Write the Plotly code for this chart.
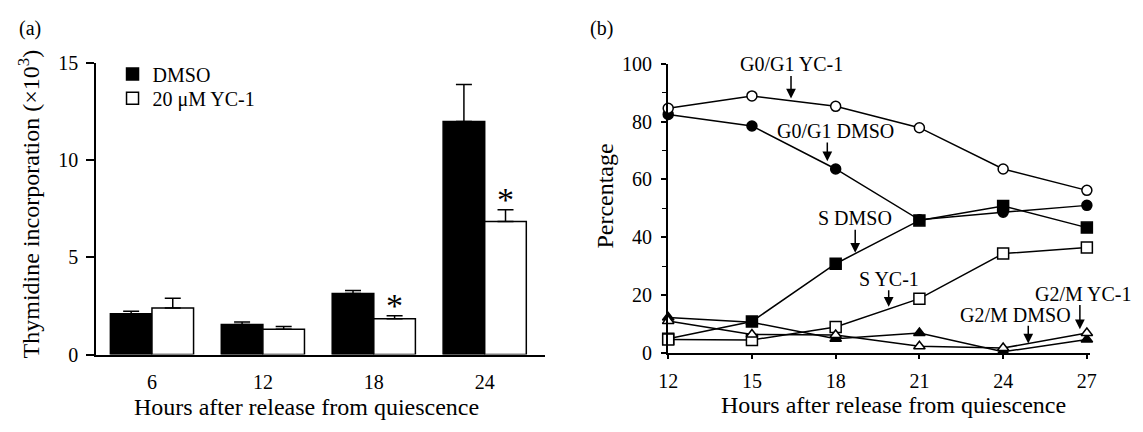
import plotly.graph_objects as go

# ---------------- data: panel (a) ----------------
hours_a = ["6", "12", "18", "24"]
dmso_a = [2.1, 1.55, 3.15, 12.0]
dmso_err = [0.13, 0.13, 0.15, 1.9]
yc1_a = [2.4, 1.3, 1.85, 6.85]
yc1_err = [0.5, 0.15, 0.15, 0.6]
signif = [False, False, True, True]
yticks_a = [0, 5, 10, 15]

# ---------------- data: panel (b) ----------------
hours_b = [12, 15, 18, 21, 24, 27]
g01_dmso = [82.5, 78.5, 63.6, 46.0, 48.6, 51.0]
g01_yc1 = [84.6, 88.9, 85.3, 77.9, 63.6, 56.2]
s_dmso = [4.8, 10.8, 30.8, 45.8, 50.8, 43.3]
s_yc1 = [4.6, 4.4, 8.9, 18.7, 34.3, 36.4]
g2m_dmso = [12.2, 10.5, 4.8, 6.8, 0.3, 4.6]
g2m_yc1 = [11.0, 6.3, 6.1, 2.2, 1.6, 6.8]

# labels: (text, text x, text y, arrow x, arrow tail y, arrow tip y)
labels_b = [
    ("G0/G1 YC-1", 16.4, 99.9, 16.4, 96.3, 88.0),
    ("G0/G1 DMSO", 18.0, 76.8, 17.7, 73.3, 66.3),
    ("S DMSO", 18.7, 46.5, 18.7, 43.1, 34.6),
    ("S YC-1", 19.9, 25.4, 19.9, 22.1, 15.9),
    ("G2/M DMSO", 24.45, 13.2, 24.9, 9.8, 3.2),
    ("G2/M YC-1", 26.85, 20.2, 26.75, 17.0, 8.1),
]

FONT = "Liberation Serif"
BLACK = "#000000"
W, H = 1143, 432
bargap = 0.25

fig = go.Figure()

xa = list(range(len(hours_a)))
fig.add_trace(go.Bar(
    x=xa, y=dmso_a, name="DMSO", legend="legend",
    marker=dict(color=BLACK, line=dict(color=BLACK, width=1.5)),
    error_y=dict(type="data", array=dmso_err, arrayminus=[0] * len(dmso_err),
                 symmetric=False, color=BLACK, thickness=1.5, width=8),
    xaxis="x", yaxis="y",
))
fig.add_trace(go.Bar(
    x=xa, y=yc1_a, name="20 \u03bcM YC-1", legend="legend2",
    marker=dict(color="#ffffff", line=dict(color=BLACK, width=1.5)),
    error_y=dict(type="data", array=yc1_err, arrayminus=[0] * len(yc1_err),
                 symmetric=False, color=BLACK, thickness=1.5, width=8),
    xaxis="x", yaxis="y",
))

line_style = dict(color=BLACK, width=1.5)
series_b = [
    (g01_dmso, "circle", BLACK, 10),
    (s_dmso, "square", BLACK, 11),
    (g2m_dmso, "triangle-up", BLACK, 10),
    (g01_yc1, "circle", "#ffffff", 10),
    (s_yc1, "square", "#ffffff", 11),
    (g2m_yc1, "triangle-up", "#ffffff", 10),
]
for vals, sym, fill, size in series_b:
    fig.add_trace(go.Scatter(
        x=hours_b, y=vals, mode="lines+markers", showlegend=False,
        line=line_style, cliponaxis=False,
        marker=dict(symbol=sym, color=fill, size=size,
                    line=dict(color=BLACK, width=1.5)),
        xaxis="x2", yaxis="y2",
    ))

annotations = []
# asterisks over significant YC-1 bars
bar_w = (1 - bargap) / 2
for i, sig in enumerate(signif):
    if sig:
        annotations.append(dict(
            x=i + bar_w / 2, y=yc1_a[i] + yc1_err[i], xref="x", yref="y",
            text="*", showarrow=False, yanchor="middle", yshift=10,
            font=dict(family=FONT, size=34, color=BLACK)))

for text, tx, ty, axx, tail, tip in labels_b:
    annotations.append(dict(
        x=tx, y=ty, xref="x2", yref="y2", text=text, showarrow=False,
        font=dict(family=FONT, size=20, color=BLACK)))
    annotations.append(dict(
        x=axx, y=tip, xref="x2", yref="y2", ax=axx, ay=tail,
        axref="x2", ayref="y2", text="", showarrow=True,
        arrowhead=2, arrowsize=1.3, arrowwidth=1.5, arrowcolor=BLACK))

# panel letters and axis titles
def paper_ann(text, px, py, size, angle=0):
    return dict(x=px / W, y=1 - py / H, xref="paper", yref="paper",
                text=text, showarrow=False, textangle=angle,
                xanchor="center", yanchor="middle",
                font=dict(family=FONT, size=size, color=BLACK))

annotations += [
    paper_ann("(a)", 21, 18, 20),
    paper_ann("(b)", 601, 18, 20),
    paper_ann("Thymidine incorporation (\u00d710<sup>3</sup>)", 20, 203, 24, -90),
    paper_ann("Hours after release from quiescence", 302, 417, 24),
    paper_ann("Percentage", 605, 195, 24, -90),
    paper_ann("Hours after release from quiescence", 897, 415.5, 24),
]

axis_common = dict(showline=True, linecolor=BLACK, linewidth=1.5,
                   showgrid=False, zeroline=False,
                   tickfont=dict(family=FONT, size=20, color=BLACK))

legend_common = dict(xanchor="left", yanchor="middle",
                     bgcolor="rgba(0,0,0,0)", borderwidth=0,
                     font=dict(family=FONT, size=20, color=BLACK),
                     itemwidth=30)

fig.update_layout(
    width=W, height=H, autosize=False,
    margin=dict(l=0, r=0, t=0, b=0),
    paper_bgcolor="#ffffff", plot_bgcolor="#ffffff",
    barmode="group", bargap=bargap, bargroupgap=0,
    font=dict(family=FONT, color=BLACK),
    showlegend=True,
    legend=dict(x=105 / W, y=1 - 66.5 / H, **legend_common),
    legend2=dict(x=105 / W, y=1 - 92 / H, **legend_common),
    xaxis=dict(domain=[88.3 / W, 544 / W], range=[-0.504, 3.547],
               tickvals=xa, ticktext=hours_a, ticks="",
               ticklabelstandoff=9, anchor="y", **axis_common),
    yaxis=dict(domain=[1 - 362 / H, 1 - 55 / H], range=[0, 15],
               tickvals=yticks_a, ticks="outside", ticklen=8, tickwidth=1.5,
               tickcolor=BLACK, anchor="x", ticklabelstandoff=4,
               **axis_common),
    xaxis2=dict(domain=[668 / W, 1096 / W], range=[11.98, 27.1],
                tickvals=hours_b, ticks="outside", ticklen=5, tickwidth=1.5,
                tickcolor=BLACK, anchor="y2", ticklabelstandoff=5,
                **axis_common),
    yaxis2=dict(domain=[1 - 360 / H, 1 - 55.7 / H], range=[0, 100],
                dtick=20, ticks="outside", ticklen=5, tickwidth=1.5,
                tickcolor=BLACK, anchor="x2", ticklabelstandoff=5,
                minor=dict(dtick=10, ticks="outside", ticklen=4, tickwidth=1.2,
                           tickcolor=BLACK),
                **axis_common),
    annotations=annotations,
)

fig.write_html("out.html")
